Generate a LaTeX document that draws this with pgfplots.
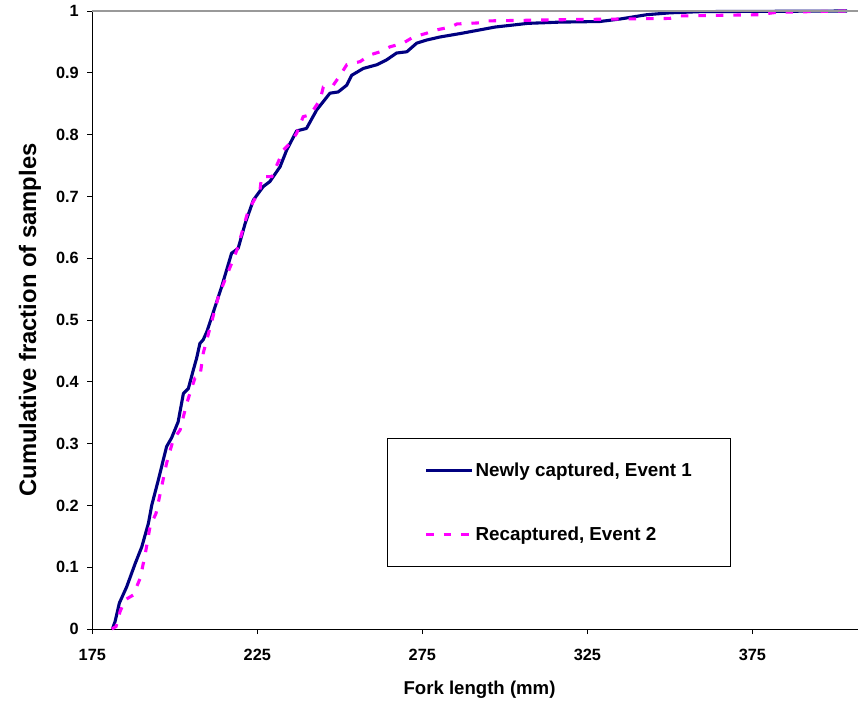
\documentclass[border=0pt]{standalone}
\usepackage{pgfplots}
\pgfplotsset{compat=1.18}
\usepackage{fontspec}
\setmainfont{Liberation Sans}
\usetikzlibrary{calc}
\definecolor{navyline}{HTML}{000080}
\definecolor{magline}{HTML}{FF00FF}
\begin{document}
\begin{tikzpicture}
\begin{axis}[
  scale only axis,
  width=765.7bp, height=618bp,
  xmin=175, xmax=407, ymin=0, ymax=1,
  clip=false,
  axis x line*=bottom, axis y line*=left,
  axis line style={black, line width=1bp, -},
  xtick={175,225,275,325,375},
  ytick={0,0.1,0.2,0.3,0.4,0.5,0.6,0.7,0.8,0.9,1},
  yticklabels={0,0.1,0.2,0.3,0.4,0.5,0.6,0.7,0.8,0.9,1},
  tick align=outside,
  major tick length=5bp,
  tick style={black, line width=0.8bp},
  /pgf/number format/assume math mode=true,
  ticklabel style={font=\bfseries\fontsize{16.3bp}{19bp}\selectfont},
  xticklabel style={yshift=-12bp},
  yticklabel style={xshift=-5bp},
  xlabel={Fork length (mm)},
  ylabel={Cumulative fraction of samples},
  xlabel style={font=\bfseries\fontsize{18.6bp}{22bp}\selectfont, at={(axis description cs:0.5057,-0.098)}, anchor=center},
  ylabel style={font=\bfseries\fontsize{23.8bp}{28bp}\selectfont, at={(axis description cs:-0.0814,0.5)}, anchor=center, rotate=0},
  legend style={at={(axis description cs:0.385,0.309)}, anchor=north west,
    draw=black, line width=0.8bp, fill=white,
    font=\bfseries\fontsize{18.8bp}{22bp}\selectfont,
    inner xsep=37bp, inner ysep=22.5bp, row sep=45bp,
    nodes={inner sep=2bp}},
  legend cell align=left,
  legend image code/.code={\draw[#1] (0bp,0bp) -- (46bp,0bp);},
]
\addplot[navyline, line width=3.1bp, line join=round] coordinates {
(181.1,0) (181.9,0.012) (183.2,0.042) (185.4,0.068) (188,0.106) (190,0.133)
(192,0.171) (193,0.2) (195,0.241) (197.5,0.295) (199,0.309) (201,0.335)
(202.6,0.381) (204.1,0.389) (205.6,0.419) (206.6,0.438) (207.6,0.462)
(208.6,0.468) (209.7,0.481) (211.2,0.505) (214.2,0.554) (217.2,0.608)
(219.2,0.616) (221.3,0.656) (223.8,0.694) (226.8,0.716) (228.8,0.724)
(231.9,0.748) (233.9,0.775) (236.9,0.806) (239.9,0.81) (243,0.84)
(247,0.867) (249.5,0.869) (252.1,0.88) (253.6,0.896) (257.1,0.907)
(261.2,0.913) (264.2,0.921) (267.2,0.932) (270.3,0.934) (273.3,0.948)
(276.3,0.953) (280.4,0.958) (287,0.964) (292,0.969) (297,0.974)
(302,0.977) (307,0.98) (316.7,0.982) (328.8,0.983) (334.9,0.987)
(343,0.994) (350,0.997) (359.5,0.999) (403.7,1)
};
\addlegendentry{Newly captured, Event 1}
\addplot[magline, line width=3.1bp, dash pattern=on 7.5bp off 10bp] coordinates {
(180.9,0) (182.2,0.004) (183.4,0.028) (184.9,0.047) (187.4,0.055)
(189.5,0.082) (191,0.12) (192.5,0.166) (194.3,0.187) (196,0.23)
(197.5,0.268) (199.5,0.306) (201.6,0.322) (203.6,0.365) (206.1,0.406)
(207.6,0.408) (208.6,0.446) (209.7,0.468) (213.2,0.538) (218.8,0.613)
(222.3,0.678) (225.8,0.71) (226.3,0.732) (229.4,0.732) (232.9,0.775)
(234.9,0.786) (236.9,0.802) (238.9,0.829) (241,0.832) (244,0.856)
(245,0.877) (248,0.88) (250.1,0.896) (252.1,0.913) (256.1,0.918)
(259.2,0.929) (262.2,0.934) (265.2,0.942) (269.2,0.948) (272.3,0.958)
(276.3,0.964) (278.9,0.969) (283.5,0.974) (285.5,0.979) (293,0.981)
(295,0.984) (318.8,0.986) (350,0.988) (353,0.992) (377,0.994)
(382.5,0.998) (403.7,1)
};
\addlegendentry{Recaptured, Event 2}
\draw[black!40, line width=1.3bp] (axis cs:175,1) -- (axis cs:407,1);
\end{axis}
\pgfresetboundingbox
\useasboundingbox ($(current axis.south west)+(-92.3bp,-75bp)$) rectangle ($(current axis.north east)+(0bp,11bp)$);
\end{tikzpicture}
\end{document}
